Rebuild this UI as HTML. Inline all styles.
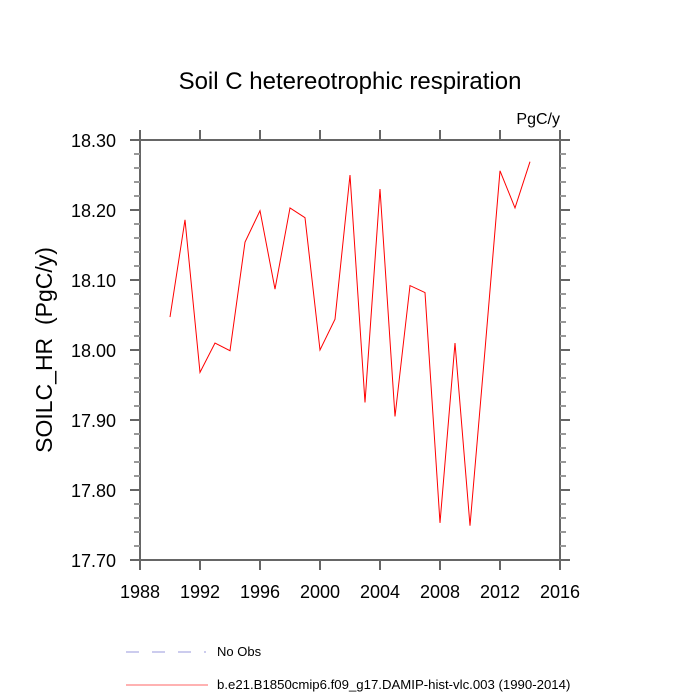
<!DOCTYPE html>
<html><head><meta charset="utf-8"><style>
html,body{margin:0;padding:0;background:#fff}
svg{display:block;font-family:"Liberation Sans",sans-serif}
</style></head><body>
<svg id="chart" width="700" height="700" viewBox="0 0 700 700" xmlns="http://www.w3.org/2000/svg">
<text x="350" y="89" text-anchor="middle" font-size="24">Soil C hetereotrophic respiration</text>
<text x="560" y="124" text-anchor="end" font-size="16">PgC/y</text>
<text transform="translate(52,350) rotate(-90)" text-anchor="middle" font-size="23" style="white-space:pre" xml:space="preserve">SOILC_HR  (PgC/y)</text>
<g id="axes"></g>
<g id="series"></g>
<g>
<line x1="126" y1="652" x2="206" y2="652" stroke="#9999dd" stroke-width="1" stroke-dasharray="13,13"/>
<text x="217" y="656" font-size="13">No Obs</text>
<line x1="126" y1="685" x2="208" y2="685" stroke="#ff6666" stroke-width="1"/>
<text x="217" y="689" font-size="13.2">b.e21.B1850cmip6.f09_g17.DAMIP-hist-vlc.003 (1990-2014)</text>
</g>
</svg>
<script>
const years=[1990,1991,1992,1993,1994,1995,1996,1997,1998,1999,2000,2001,2002,2003,2004,2005,2006,2007,2008,2009,2010,2011,2012,2013,2014];
const values=[18.047,18.186,17.968,18.010,17.999,18.154,18.199,18.087,18.203,18.189,18.000,18.044,18.250,17.925,18.230,17.905,18.092,18.082,17.753,18.010,17.749,18.000,18.256,18.203,18.269];
const xTicks=[1988,1992,1996,2000,2004,2008,2012,2016];
const yTicks=[17.70,17.80,17.90,18.00,18.10,18.20,18.30];
const X0=140,X1=560,Y0=140,Y1=560,xmin=1988,xmax=2016,ymin=17.70,ymax=18.30;
const sx=v=>X0+(v-xmin)/(xmax-xmin)*(X1-X0);
const sy=v=>Y1-(v-ymin)/(ymax-ymin)*(Y1-Y0);
const NS="http://www.w3.org/2000/svg";
const axes=document.getElementById('axes');
function mk(t,a,p){const e=document.createElementNS(NS,t);for(const k in a)e.setAttribute(k,a[k]);p.appendChild(e);return e;}
const frame=mk('rect',{x:X0,y:Y0,width:X1-X0,height:Y1-Y0,fill:'none',stroke:'#666',"stroke-width":2},axes);


xTicks.forEach(t=>{const x=sx(t);
 const a=mk('line',{x1:x,y1:Y1,x2:x,y2:Y1+10,stroke:'#666',"stroke-width":2},axes);
 
 
 const b=mk('line',{x1:x,y1:Y0,x2:x,y2:Y0-10,stroke:'#666',"stroke-width":2},axes);
 
 
 const l=mk('text',{x:x,y:Y1+38,"text-anchor":"middle","font-size":18},axes);l.textContent=t;
 
 
});
for(let i=0;i<=30;i++){const v=ymin+i*0.02;const y=sy(v);const major=i%5===0;const len=major?10:6;
 const c=major?'#666':'#999';
 const a=mk('line',{x1:X0-len,y1:y,x2:X0,y2:y,stroke:c,"stroke-width":2},axes);
 
 
 const b=mk('line',{x1:X1,y1:y,x2:X1+len,y2:y,stroke:c,"stroke-width":2},axes);
 
 
}
yTicks.forEach(t=>{const l=mk('text',{x:X0-24,y:sy(t)+7,"text-anchor":"end","font-size":18},axes);l.textContent=t.toFixed(2);
 
 
});
const pts=years.map((y,i)=>sx(y)+','+sy(values[i])).join(' ');
const pl=mk('polyline',{points:pts,fill:'none',stroke:'#ff0000',"stroke-width":1},document.getElementById('series'));


</script>
</body></html>
